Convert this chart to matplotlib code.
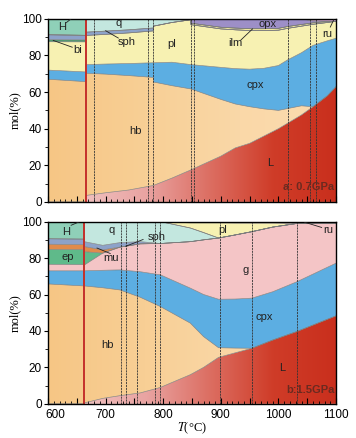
import numpy as np
import matplotlib
matplotlib.use("Agg")
import matplotlib.pyplot as plt
from matplotlib.ticker import MultipleLocator, FuncFormatter

plt.rcParams['font.family'] = ['Liberation Sans', 'DejaVu Sans']
plt.rcParams['mathtext.fontset'] = 'stix'

# ---------------- Panel a: 0.7 GPa ----------------
phases_a = ['L', 'hb', 'cpx', 'pl', 'bi', 'sph', 'ilm', 'q', 'H', 'opx', 'ru']
T_a = [600, 665, 665, 700, 740, 783, 783, 815, 848, 848, 900, 925, 950, 975, 1000, 1016, 1040, 1060, 1085, 1100]
L_a   = [0, 0, 3.5, 5, 6.5, 9, 9, 13, 17.5, 17.5, 25, 29.5, 32, 36, 40, 43, 47.5, 52, 58, 63]
hb_a  = [67, 65.7, 66.8, 64.8, 62.5, 59, 56.5, 50.5, 44.2, 44.2, 31, 24, 20, 14.8, 10, 8, 5, 0, 0, 0]
cpx_a = [5, 5.3, 4.7, 5.5, 6.6, 8, 10.5, 12.8, 13.3, 13.3, 17.5, 19.3, 20.5, 22.2, 24.5, 26.6, 29, 33.5, 30, 26.4]
pl_a  = [15.5, 16.4, 15.9, 16.2, 16.7, 17.4, 20, 21.7, 24.5, 21.8, 21, 21.2, 21.1, 20.6, 19.3, 17.2, 14.5, 11.5, 10, 9.2]
bi_a  = [1.1, 1.1, 0, 0, 0, 0, 0, 0, 0, 0, 0, 0, 0, 0, 0, 0, 0, 0, 0, 0]
sph_a = [2.7, 2.5, 1.8, 1.8, 1.7, 1.6, 0, 0, 0, 0, 0, 0, 0, 0, 0, 0, 0, 0, 0, 0]
ilm_a = [0, 0, 0, 0, 0, 0, 0, 0, 0, 0.8, 0.9, 0.95, 1.0, 1.0, 1.0, 1.0, 0.9, 0.8, 0.6, 0]
q_a   = [0, 0, 7.3, 6.7, 6, 5, 4, 2, 0.5, 0, 0, 0, 0, 0, 0, 0, 0, 0, 0, 0]
H_a   = [8.7, 9, 0, 0, 0, 0, 0, 0, 0, 0, 0, 0, 0, 0, 0, 0, 0, 0, 0, 0]
opx_a = [0, 0, 0, 0, 0, 0, 0, 0, 0, 2.4, 4.6, 5.05, 5.4, 5.4, 5.2, 4.2, 3.1, 1.0, 0, 0]
ru_a  = [0, 0, 0, 0, 0, 0, 0, 0, 0, 0, 0, 0, 0, 0, 0, 0, 0, 1.2, 1.4, 1.4]
vals_a = [L_a, hb_a, cpx_a, pl_a, bi_a, sph_a, ilm_a, q_a, H_a, opx_a, ru_a]
red_a = [665]
dashed_a = [680, 774, 783, 848, 853, 1016, 1054, 1066]

# ---------------- Panel b: 1.5 GPa ----------------
phases_b = ['L', 'hb', 'cpx', 'g', 'ep', 'mu', 'sph', 'q', 'H', 'pl', 'ru']
T_b = [600, 663, 663, 695, 725, 760, 795, 847, 870, 896, 925, 954, 990, 1032, 1100]
L_b   = [0, 0, 0.5, 3, 4.5, 6, 9, 16, 20, 25.5, 28, 30.5, 35, 39.7, 48.3]
hb_b  = [65.8, 64.7, 64.2, 60.7, 58, 52.5, 44.4, 28.3, 16.9, 5.3, 2.6, 0, 0, 0, 0]
cpx_b = [7.2, 8.3, 8.3, 9.6, 11, 14, 17.4, 19.2, 23.1, 26.6, 26.9, 27.5, 26.5, 27.3, 28.9]
g_b   = [3.6, 3.4, 3.2, 9.4, 12.5, 15.3, 17.2, 25.5, 30, 33.6, 35.2, 36.5, 35.5, 32, 21.8]
ep_b  = [8.2, 8.2, 7.3, 0, 0, 0, 0, 0, 0, 0, 0, 0, 0, 0, 0]
mu_b  = [2.8, 2.8, 2.8, 1.8, 0, 0, 0, 0, 0, 0, 0, 0, 0, 0, 0]
sph_b = [3, 3, 2.7, 2.5, 2.5, 1.2, 0, 0, 0, 0, 0, 0, 0, 0, 0]
q_b   = [0, 0, 11, 13, 11.5, 11, 12, 7.5, 4, 0, 0, 0, 0, 0, 0]
H_b   = [9.4, 9.6, 0, 0, 0, 0, 0, 0, 0, 0, 0, 0, 0, 0, 0]
pl_b  = [0, 0, 0, 0, 0, 0, 0, 2.8, 5.3, 8.3, 6.5, 4.7, 2.2, 0, 0]
ru_b  = [0, 0, 0, 0, 0, 0, 0, 0.7, 0.7, 0.7, 0.8, 0.8, 0.8, 1, 1]
vals_b = [L_b, hb_b, cpx_b, g_b, ep_b, mu_b, sph_b, q_b, H_b, pl_b, ru_b]
red_b = [663]
dashed_b = [726, 735, 754, 786, 795, 898, 954, 1032]

colors = {
    'cpx': '#5caee2', 'pl': '#f7f1b2', 'bi': '#4f9a70',
    'sph': '#8da2c9', 'ilm': '#eee7a0', 'q': '#c3e7df', 'H': '#8fd0b8', 'opx': '#9d8fc7',
    'ru': '#c9a0c8', 'g': '#f4c5c6', 'ep': '#5fba8a', 'mu': '#e08b4b',
}
grads = {
    'L': (matplotlib.colors.LinearSegmentedColormap.from_list(
        'lgrad', ['#efc0bf', '#e9a3a1', '#dc6e62', '#cf3c28', '#c92f1d']), 660),
    'hb': (matplotlib.colors.LinearSegmentedColormap.from_list(
        'hbgrad', ['#f6c685', '#f8cf95', '#fad8a8', '#fbdcb0']), 600),
}

fig = plt.figure(figsize=(3.56, 4.38), dpi=100)
ax_a = fig.add_axes([0.135, 0.539, 0.809, 0.418])
ax_b = fig.add_axes([0.135, 0.078, 0.809, 0.416])


def draw_panel(ax, T, phases, vals, reds, dashes):
    T = np.array(T, float)
    base = np.zeros_like(T)
    for name, v in zip(phases, vals):
        v = np.array(v, float)
        top = base + v
        if name in grads:
            cmap, x0 = grads[name]
            poly = ax.fill_between(T, base, top, facecolor='none', edgecolor='none')
            path = poly.get_paths()[0]
            grad = np.linspace(0, 1, 256).reshape(1, -1)
            im = ax.imshow(grad, extent=[x0, 1100, 0, 100], aspect='auto',
                           cmap=cmap, origin='lower', zorder=1)
            im.set_clip_path(path, transform=ax.transData)
        else:
            ax.fill_between(T, base, top, facecolor=colors[name], edgecolor='none',
                            linewidth=0, zorder=1)
        ax.plot(T, top, color='#7d7d7d', lw=0.45, zorder=2)
        base = top
    for x in reds:
        ax.axvline(x, color='#c4302b', lw=1.4, zorder=3)
    for x in dashes:
        ax.axvline(x, color='#333333', lw=0.6, ls=(0, (2.5, 1)), zorder=3)
    ax.set_xlim(600, 1100)
    ax.set_ylim(0, 100)
    ax.xaxis.set_major_locator(MultipleLocator(50))
    ax.xaxis.set_minor_locator(MultipleLocator(10))
    ax.yaxis.set_major_locator(MultipleLocator(20))
    ax.yaxis.set_minor_locator(MultipleLocator(10))
    ax.tick_params(axis='x', which='major', direction='in', length=4, width=0.8, pad=3.5)
    ax.tick_params(axis='x', which='minor', direction='in', length=2, width=0.6)
    ax.tick_params(axis='y', which='major', direction='out', length=3, width=0.8, pad=1.5)
    ax.tick_params(axis='y', which='minor', direction='out', length=2, width=0.6)
    ax.tick_params(labelsize=8.5)
    for s in ax.spines.values():
        s.set_linewidth(1.0)
        s.set_zorder(5)
    ax.set_ylabel('mol(%)', family='Liberation Serif', fontsize=9, labelpad=1)


draw_panel(ax_a, T_a, phases_a, vals_a, red_a, dashed_a)
draw_panel(ax_b, T_b, phases_b, vals_b, red_b, dashed_b)

ax_a.tick_params(axis='x', labelbottom=False)
# 600 is written separately (nudged right, as in the reference)
ax_b.xaxis.set_major_formatter(
    FuncFormatter(lambda v, p: f'{int(v)}' if (v % 100 == 0 and v > 600) else ''))
ax_b.annotate('600', xy=(600, 0), xycoords=('data', 'axes fraction'),
              xytext=(5, -3.5), textcoords='offset points',
              ha='center', va='top', fontsize=8.5)
ax_b.set_xlabel(r'$T$(°C)', family='Liberation Serif', fontsize=9, labelpad=0)

fs = 8
tk = dict(fontsize=fs, color='#222222', ha='center', va='center', zorder=6)
lk = dict(color='#222222', lw=0.6, zorder=6)

# Panel a labels
ax_a.text(624, 95.5, 'H', **tk)
ax_a.plot([632, 640], [98, 100], **lk)
ax_a.text(722, 97.5, 'q', **tk)
ax_a.text(736, 87.5, 'sph', **tk)
ax_a.plot([700, 722], [93.5, 89.5], **lk)
ax_a.text(652, 83, 'bi', **tk)
ax_a.plot([609, 642], [88.2, 84.5], **lk)
ax_a.text(815, 86, 'pl', **tk)
ax_a.text(925, 87, 'ilm', **tk)
ax_a.plot([935, 955], [88.5, 94.5], **lk)
ax_a.text(981, 97, 'opx', **tk)
ax_a.text(1084, 91.5, 'ru', **tk)
ax_a.plot([1090, 1096], [95.5, 99.5], **lk)
ax_a.text(960, 64, 'cpx', **tk)
ax_a.text(751, 39, 'hb', **tk)
ax_a.text(985, 21, 'L', **tk)
ax_a.text(1097, 8, 'a: 0.7GPa', fontsize=8, fontweight='bold', color='#6b2a20',
          ha='right', va='center', zorder=6)

# Panel b labels
ax_b.text(632, 94.5, 'H', **tk)
ax_b.plot([640, 655], [98, 100], **lk)
ax_b.text(711, 95.5, 'q', **tk)
ax_b.text(788, 91.5, 'sph', **tk)
ax_b.plot([735, 765], [86.5, 90.2], **lk)
ax_b.text(635, 80.8, 'ep', **tk)
ax_b.text(710, 80, 'mu', **tk)
ax_b.plot([685, 708], [85.5, 82.5], **lk)
ax_b.text(903, 95.5, 'pl', **tk)
ax_b.text(1087, 95.5, 'ru', **tk)
ax_b.plot([1045, 1075], [99.7, 96.8], **lk)
ax_b.text(943, 73.5, 'g', **tk)
ax_b.text(975, 47.5, 'cpx', **tk)
ax_b.text(704, 32.5, 'hb', **tk)
ax_b.text(1006, 19.5, 'L', **tk)
ax_b.text(1097, 7.5, 'b:1.5GPa', fontsize=8, fontweight='bold', color='#6b2a20',
          ha='right', va='center', zorder=6)

fig.savefig('out.png', dpi=100)
